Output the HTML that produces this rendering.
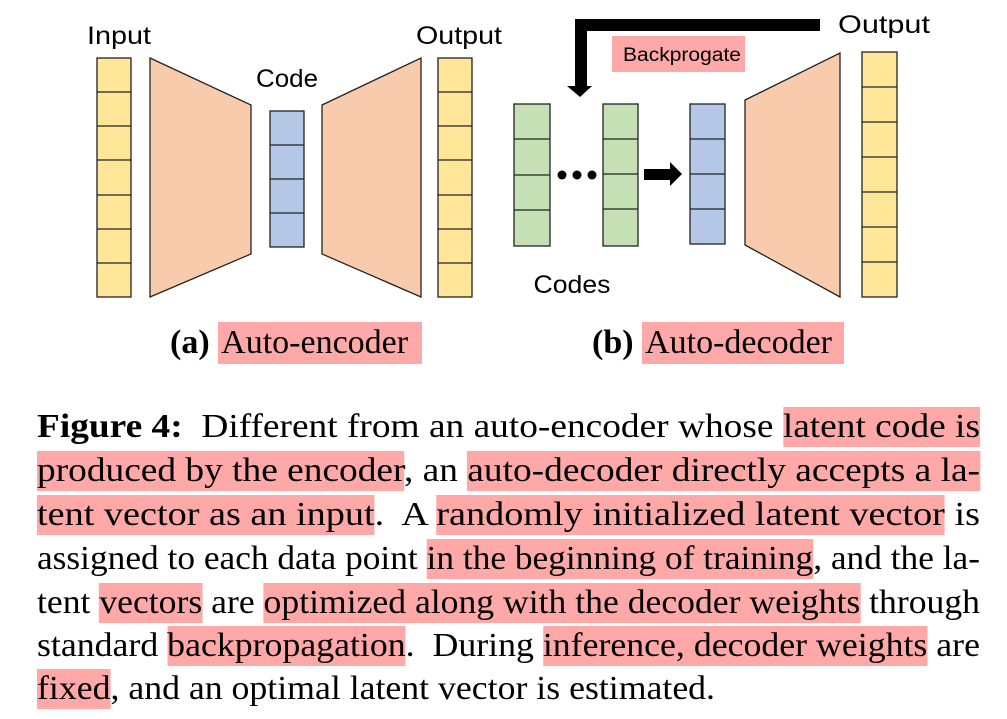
<!DOCTYPE html>
<html><head><meta charset="utf-8"><style>
body{margin:0;width:1007px;height:719px;background:#fff;overflow:hidden;position:relative}
svg{position:absolute;left:0;top:0}
.cap{position:absolute;font-family:"Liberation Serif",serif;font-size:34px;top:324px;white-space:nowrap}
.hl{background:#ffa8a8}
.ln{position:absolute;left:37px;font-family:"Liberation Serif",serif;font-size:34px;white-space:nowrap;line-height:38px;transform-origin:0 0}
.ln span.hl{padding:1px 0 2px}
</style></head><body>
<svg width="1007" height="400" viewBox="0 0 1007 400" font-family="Liberation Sans, sans-serif">
<g stroke="#222" stroke-width="1.3">
<rect x="97" y="58" width="34" height="239" fill="#ffe699"/>
<path d="M97 92H131M97 126H131M97 160H131M97 195H131M97 229H131M97 263H131"/>
<polygon points="150,58 251,105 251,254 150,297" fill="#f8cbad"/>
<rect x="270" y="111" width="34" height="136" fill="#b4c7e7"/>
<path d="M270 145H304M270 179H304M270 213H304"/>
<polygon points="322,105 421,58 421,297 322,254" fill="#f8cbad"/>
<rect x="438" y="58" width="34" height="239" fill="#ffe699"/>
<path d="M438 92H472M438 126H472M438 160H472M438 195H472M438 229H472M438 263H472"/>
<rect x="514" y="104" width="36" height="142" fill="#c5e0b4"/>
<path d="M514 139H550M514 175H550M514 210H550"/>
<rect x="603" y="104" width="35" height="142" fill="#c5e0b4"/>
<path d="M603 139H638M603 174H638M603 209H638"/>
<rect x="690" y="104" width="35" height="140" fill="#b4c7e7"/>
<path d="M690 139H725M690 174H725M690 209H725"/>
<polygon points="745,100 840,53 840,297 745,245" fill="#f8cbad"/>
<rect x="862" y="52" width="35" height="245" fill="#ffe699"/>
<path d="M862 87H897M862 122H897M862 157H897M862 192H897M862 227H897M862 262H897"/>
</g>
<circle cx="562" cy="175" r="4.5" fill="#000"/><circle cx="577" cy="175" r="4.5" fill="#000"/><circle cx="592" cy="175" r="4.5" fill="#000"/>
<polygon points="644,169 670,169 670,162 682,174 670,186 670,180 644,180" fill="#000"/>
<polygon points="575,19 820,19 820,31 587,31 587,86 592,86 580,97 567,86 575,86" fill="#000"/>
<rect x="612" y="36" width="133" height="36" fill="#ffa8a8"/>
<text x="682" y="61" font-size="19" text-anchor="middle" fill="#000" textLength="118" lengthAdjust="spacingAndGlyphs">Backprogate</text>
<g font-size="25" fill="#000" text-anchor="middle">
<text x="119" y="44" textLength="64" lengthAdjust="spacingAndGlyphs">Input</text>
<text x="287" y="87" textLength="62" lengthAdjust="spacingAndGlyphs">Code</text>
<text x="459" y="44" textLength="86" lengthAdjust="spacingAndGlyphs">Output</text>
<text x="884" y="33" textLength="92" lengthAdjust="spacingAndGlyphs">Output</text>
<text x="572" y="293" textLength="77" lengthAdjust="spacingAndGlyphs">Codes</text>
</g>
</svg>
<div class="cap" style="left:170px"><b>(a)</b> <span class="hl" style="padding:2px 14px 3px 3px">Auto-encoder</span></div>
<div class="cap" style="left:592px"><b>(b)</b> <span class="hl" style="padding:2px 12px 3px 3px">Auto-decoder</span></div>
<div class="ln" data-w="943" style="top:408px"><b>Figure 4:</b>&nbsp; Different from an auto-encoder whose <span class="hl">latent code is</span></div>
<div class="ln" data-w="943" style="top:452px"><span class="hl">produced by the encoder</span>, an <span class="hl">auto-decoder directly accepts a la-</span></div>
<div class="ln" data-w="943" style="top:496px"><span class="hl">tent vector as an input</span>.&nbsp; A <span class="hl">randomly initialized latent vector</span> is</div>
<div class="ln" data-w="943" style="top:540px">assigned to each data point <span class="hl">in the beginning of training</span>, and the la-</div>
<div class="ln" data-w="943" style="top:584px">tent <span class="hl">vectors</span> are <span class="hl">optimized along with the decoder weights</span> through</div>
<div class="ln" data-w="943" style="top:627px">standard <span class="hl">backpropagation</span>.&nbsp; During <span class="hl">inference, decoder weights</span> are</div>
<div class="ln" data-w="678" style="top:670px"><span class="hl">fixed</span>, and an optimal latent vector is estimated.</div>
<script>
document.querySelectorAll('.ln').forEach(function(e){
  var w=e.getBoundingClientRect().width, t=+e.getAttribute('data-w');
  e.style.transform='scaleX('+(t/w)+')';
});
</script>
</body></html>
